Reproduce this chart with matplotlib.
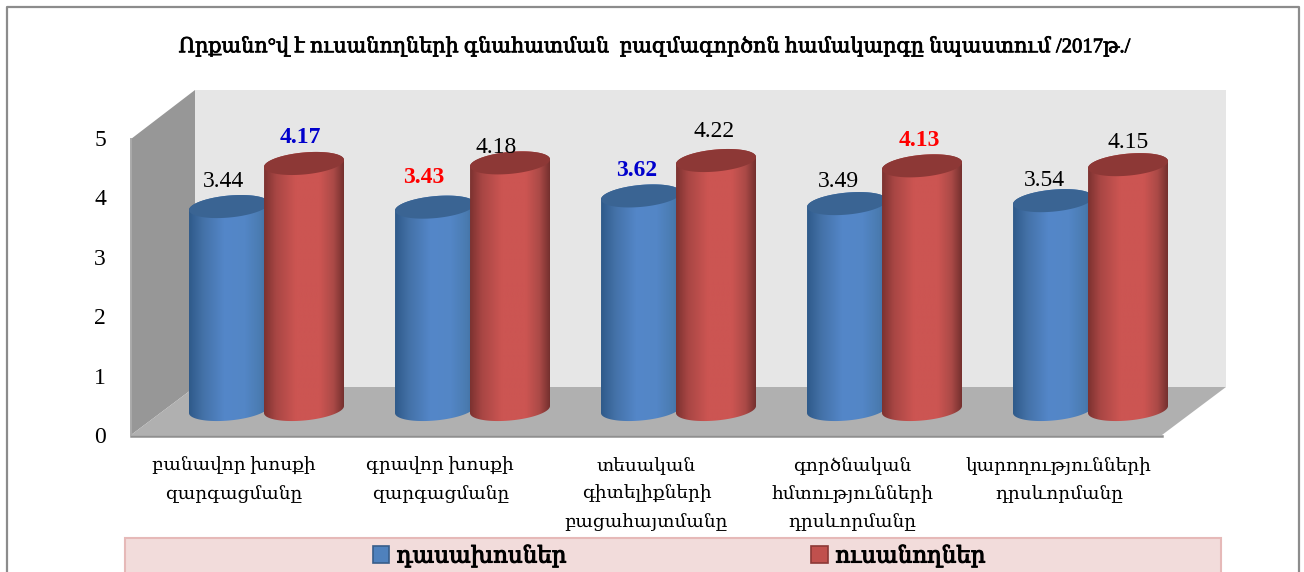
from __future__ import annotations

import matplotlib
matplotlib.use("Agg")
import matplotlib.patheffects as pe
import matplotlib.pyplot as plt
import numpy as np
from matplotlib.colors import LinearSegmentedColormap
from matplotlib.patches import PathPatch, Patch, Polygon, Rectangle
from matplotlib.path import Path as MplPath

TITLE = "Որքանո°վ է ուսանողների գնահատման  բազմագործոն համակարգը նպաստում /2017թ./"
CATEGORIES = [
    "բանավոր խոսքի\nզարգացմանը",
    "գրավոր խոսքի\nզարգացմանը",
    "տեսական\nգիտելիքների\nբացահայտմանը",
    "գործնական\nհմտությունների\nդրսևորմանը",
    "կարողությունների\nդրսևորմանը",
]
SERIES_NAMES = ["դասախոսներ", "ուսանողներ"]
LECTURERS = [3.44, 3.43, 3.62, 3.49, 3.54]
STUDENTS = [4.17, 4.18, 4.22, 4.13, 4.15]
Y_TICKS = [0, 1, 2, 3, 4, 5]

# label colour / weight and pixel nudges, the chart places these by hand
LECTURER_STYLE = [("black", "normal"), ("red", "bold"), ("#0000cc", "bold"), ("black", "normal"), ("black", "normal")]
STUDENT_STYLE = [("#0000cc", "bold"), ("black", "normal"), ("black", "normal"), ("red", "bold"), ("black", "normal")]
LECTURER_NUDGE = [(-6, 25.5), (-11, 29.5), (-4, 25.5), (-9, 22.5), (-9, 20.5)]
STUDENT_NUDGE = [(-4, 25.5), (-14, 15.5), (-2, 29.5), (-3, 25.5), (0, 22.5)]

W, H = 1304, 572
GROUP_PX = 206.0
UNIT_PX = 59.0
BASE_Y = 409.5
FIRST_X = 266.5
BAR_PX = 80.0
OFFSET_PX = 37.5
SERIF = ["Liberation Serif", "DejaVu Serif"]
HEAVY = [pe.withStroke(linewidth=0.55, foreground="black")]

BLUE_CMAP = LinearSegmentedColormap.from_list(
    "blue", [(0, "#2f5a8a"), (0.18, "#4472a8"), (0.45, "#5487c9"), (0.7, "#5386c6"), (0.9, "#4a7bb0"), (1, "#3f6d9f")]
)
RED_CMAP = LinearSegmentedColormap.from_list(
    "red", [(0, "#7c3230"), (0.15, "#a84644"), (0.4, "#cc5552"), (0.7, "#cc5552"), (0.87, "#ab4a47"), (1, "#74302e")]
)


def draw_cylinder(ax, x, value, cmap, cap_color):
    half_w = BAR_PX / 2 / GROUP_PX
    t = np.linspace(0, 2 * np.pi, 121)
    dx = half_w * np.cos(t)
    dy = (11 * np.sin(t) + 3.5 * np.cos(t)) / UNIT_PX
    low = t >= np.pi
    # body outline: lower half of the foot ellipse, then up over the cap
    xs = np.r_[x + dx[low], x + dx[~low]]
    ys = np.r_[dy[low], value + dy[~low]]
    body = PathPatch(MplPath(np.c_[xs, ys]), transform=ax.transData, fc="none", ec="none")
    ax.add_patch(body)
    grad = np.linspace(0, 1, 256).reshape(1, -1)
    img = ax.imshow(
        grad,
        cmap=cmap,
        extent=(x - half_w, x + half_w, -0.4, value + 0.4),
        aspect="auto",
        zorder=2,
    )
    img.set_clip_path(body)
    ax.add_patch(Polygon(np.c_[x + dx, value + dy], fc=cap_color, ec="none", zorder=2))


def main() -> None:
    plt.rcParams["font.family"] = SERIF
    fig = plt.figure(figsize=(W / 100, H / 100), dpi=100, facecolor="white")

    # background: chart frame, walls and floor in pixel coordinates
    bg = fig.add_axes([0, 0, 1, 1])
    bg.set_xlim(0, W)
    bg.set_ylim(H, 0)
    bg.axis("off")
    bg.plot([7, 7, 1299, 1299], [H, 7, 7, H], color="#8c8c8c", lw=1.6)
    bg.add_patch(Polygon([(195, 90), (1226, 90), (1226, 387), (195, 387)], fc="#e6e6e6", ec="none"))
    bg.add_patch(Polygon([(131, 139), (195, 90), (195, 387), (131, 435)], fc="#979797", ec="none"))
    bg.add_patch(Polygon([(131, 435), (195, 387), (1226, 387), (1162, 435)], fc="#b0b0b0", ec="none"))
    bg.plot([131, 1162], [435.5, 435.5], color="#8f8f8f", lw=1.8)
    bg.plot([131, 131], [139, 435], color="#aaaaaa", lw=1.4)
    bg.add_patch(Rectangle((125, 538), 1096, 40, fc="#f2dcdb", ec="#e6b9b8", lw=1.5))

    bg.text(653, 47, TITLE, ha="center", va="center", fontsize=14.9, color="black", path_effects=HEAVY)

    # axis ticks sit on the front edge of the 3D box
    box = fig.add_axes([131 / W, 1 - 435 / H, (1162 - 131) / W, (435 - 138) / H])
    box.patch.set_visible(False)
    for spine in box.spines.values():
        spine.set_visible(False)
    box.set_xlim(-0.5, 4.5)
    box.set_ylim(0, 5)
    box.set_yticks(Y_TICKS)
    box.set_xticks(range(len(CATEGORIES)))
    box.set_xticklabels(CATEGORIES, fontsize=13.3, linespacing=1.72)
    box.tick_params(axis="y", length=0, pad=18, labelsize=17)
    box.tick_params(axis="x", length=0, pad=16)

    # cylinders on real value scale
    ax = fig.add_axes([0, 0, 1, 1])
    ax.patch.set_visible(False)
    ax.axis("off")
    xlim = (-FIRST_X / GROUP_PX, (W - FIRST_X) / GROUP_PX)
    ylim = (-(H - BASE_Y) / UNIT_PX, BASE_Y / UNIT_PX)
    offset = OFFSET_PX / GROUP_PX
    for i in range(len(CATEGORIES)):
        draw_cylinder(ax, i - offset, LECTURERS[i], BLUE_CMAP, "#3a6493")
        draw_cylinder(ax, i + offset, STUDENTS[i], RED_CMAP, "#8d3836")
        for x, val, style, nudge in (
            (i - offset, LECTURERS[i], LECTURER_STYLE[i], LECTURER_NUDGE[i]),
            (i + offset, STUDENTS[i], STUDENT_STYLE[i], STUDENT_NUDGE[i]),
        ):
            ax.annotate(
                f"{val:.2f}",
                (x, val),
                xytext=(nudge[0] * 0.72, nudge[1] * 0.72),
                textcoords="offset points",
                ha="center",
                va="center",
                fontsize=17,
                color=style[0],
                fontweight=style[1],
                zorder=5,
            )
    ax.set_xlim(*xlim)
    ax.set_ylim(*ylim)

    handles = [
        Patch(fc="#4f81bd", ec="#385d8a", lw=1.2, label=SERIES_NAMES[0]),
        Patch(fc="#c0504d", ec="#8c3836", lw=1.2, label=SERIES_NAMES[1]),
    ]
    legend = fig.legend(
        handles=handles,
        loc="center",
        bbox_to_anchor=(679 / W, 1 - 556 / H),
        ncol=2,
        frameon=False,
        prop={"size": 16.5},
        handlelength=0.72,
        handleheight=0.72,
        handletextpad=0.32,
        columnspacing=10.7,
    )
    for text in legend.get_texts():
        text.set_path_effects([pe.withStroke(linewidth=0.8, foreground="black")])

    fig.savefig("out.png", dpi=100, facecolor="white")
    plt.close(fig)


if __name__ == "__main__":
    main()
